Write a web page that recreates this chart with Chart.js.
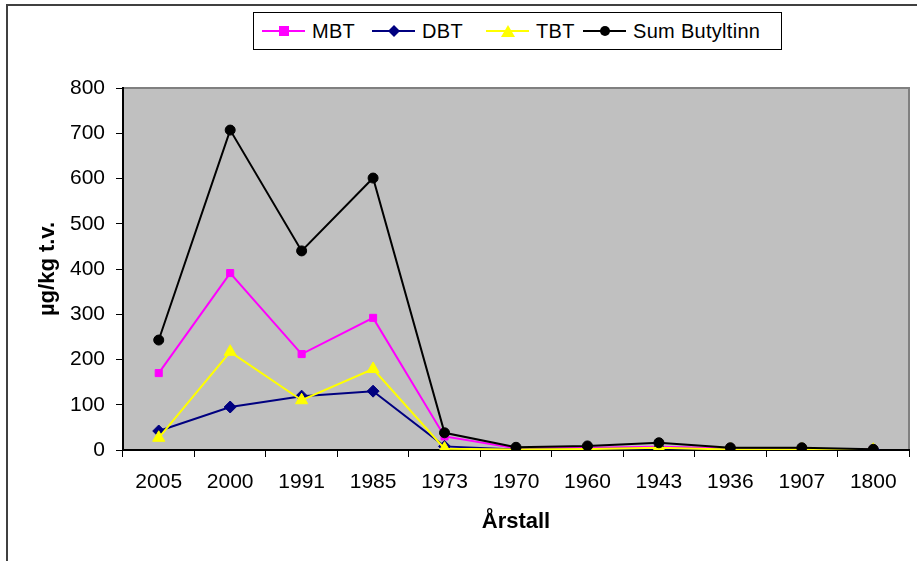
<!DOCTYPE html>
<html lang="no">
<head>
  <meta charset="UTF-8">
  <title>Butyltinn</title>
  <script src="https://cdn.jsdelivr.net/npm/chart.js"></script>
  <style>
    body {
      margin: 0;
      background: #fff;
      font-family: Arial, "Liberation Sans", sans-serif;
    }
    .wrap {
      position: relative;
      width: 917px;
      height: 561px;
    }
    #legend {
      position: absolute;
      left: 253px;
      top: 12px;
      width: 527px;
      height: 36px;
      border: 1px solid #000;
      background: #fff;
      font-size: 20px;
      color: #000;
    }
    #legend .item {
      position: absolute;
      top: 0;
      height: 36px;
      display: flex;
      align-items: center;
      white-space: nowrap;
    }
    #legend .item span {
      letter-spacing: 0.3px;
    }
    #legend svg {
      margin-right: 7px;
    }
  </style>
</head>
<body>
  <div class="wrap">
    <canvas id="chart" width="917" height="561"></canvas>
    <div id="legend"></div>
  </div>

  <script>
    const years = ['2005', '2000', '1991', '1985', '1973', '1970', '1960', '1943', '1936', '1907', '1800'];
    const mbt = [170, 391, 212, 292, 30, 4, 5, 7, 4, 2, 1];
    const dbt = [42, 95, 119, 130, 8, 1, 2, 4, 1, 1, 0.5];
    const tbt = [27, 217, 110, 179, 3, 1, 2, 5, 1, 1, 0.5];
    const sumBt = [243, 707, 440, 601, 38, 6, 9, 16, 5, 5, 1.5];
    const yTicks = [0, 100, 200, 300, 400, 500, 600, 700, 800];

    const series = [
      { label: 'MBT', data: mbt, color: '#ff00ff', point: 'rect', r: 5, legendX: 8 },
      { label: 'DBT', data: dbt, color: '#000080', point: 'rectRot', r: 6, legendX: 118 },
      { label: 'TBT', data: tbt, color: '#ffff00', point: 'triangle', r: 7, legendX: 232 },
      { label: 'Sum Butyltinn', data: sumBt, color: '#000000', point: 'circle', r: 5, legendX: 329 }
    ];

    // gray plot area + outer frame
    const plotBg = {
      id: 'plotBg',
      beforeDraw(chart) {
        const c = chart.ctx, a = chart.chartArea;
        c.save();
        c.strokeStyle = '#404040';
        c.lineWidth = 2;
        c.strokeRect(7, 5, 1000, 1000);
        c.fillStyle = '#c0c0c0';
        c.fillRect(a.left, a.top, a.right - a.left, a.bottom - a.top);
        c.strokeStyle = '#808080';
        c.lineWidth = 2;
        c.strokeRect(a.left, a.top, a.right - a.left, a.bottom - a.top);
        c.restore();
      }
    };

    const tickFont = { family: 'Arial', size: 21 };
    const titleFont = { family: 'Arial', size: 22, weight: 'bold' };

    const chart = new Chart(document.getElementById('chart'), {
      type: 'line',
      data: {
        labels: years,
        datasets: series.map((s, i) => ({
          label: s.label,
          data: s.data,
          borderColor: s.color,
          backgroundColor: s.color,
          borderWidth: 2,
          pointStyle: s.point,
          pointRadius: s.r,
          pointBorderWidth: 1,
          pointBorderColor: s.color,
          tension: 0,
          order: series.length - i
        }))
      },
      options: {
        responsive: false,
        animation: false,
        layout: { padding: { top: 88, right: 4, left: 0, bottom: 0 } },
        plugins: {
          legend: { display: false },
          tooltip: { enabled: false }
        },
        scales: {
          x: {
            offset: true,
            grid: { offset: true, drawOnChartArea: false, drawTicks: true, tickLength: 7, color: '#000' },
            border: { color: '#000', width: 2 },
            ticks: { color: '#000', font: tickFont, padding: 13, maxRotation: 0 },
            title: {
              display: true,
              text: 'Årstall',
              color: '#000',
              font: titleFont,
              padding: { top: 0, bottom: 26 }
            },
            afterFit(scale) { scale.height = 111; }
          },
          y: {
            min: 0,
            max: 800,
            afterBuildTicks(scale) { scale.ticks = yTicks.map(v => ({ value: v })); },
            grid: { drawOnChartArea: false, drawTicks: true, tickLength: 7, color: '#000' },
            border: { color: '#000', width: 2 },
            ticks: { color: '#000', font: tickFont, padding: 11 },
            title: {
              display: true,
              text: 'µg/kg t.v.',
              color: '#000',
              font: titleFont,
              padding: { top: 35, bottom: 0 }
            },
            afterFit(scale) { scale.width = 123; }
          }
        }
      },
      plugins: [plotBg]
    });

    // legend box, built from the series definitions
    function markerSvg(s) {
      let m = '';
      if (s.point === 'rect') m = '<rect x="17" y="2" width="10" height="10" fill="' + s.color + '"/>';
      if (s.point === 'rectRot') m = '<polygon points="22,1 28,7 22,13 16,7" fill="' + s.color + '"/>';
      if (s.point === 'triangle') m = '<polygon points="22,1 29,13 15,13" fill="' + s.color + '"/>';
      if (s.point === 'circle') m = '<circle cx="22" cy="7" r="5" fill="' + s.color + '"/>';
      return '<svg width="43" height="14"><line x1="0" y1="7" x2="43" y2="7" stroke="' + s.color + '" stroke-width="2"/>' + m + '</svg>';
    }
    document.getElementById('legend').innerHTML = series.map(s =>
      '<div class="item" style="left:' + s.legendX + 'px">' + markerSvg(s) + '<span>' + s.label + '</span></div>'
    ).join('');
  </script>
</body>
</html>
